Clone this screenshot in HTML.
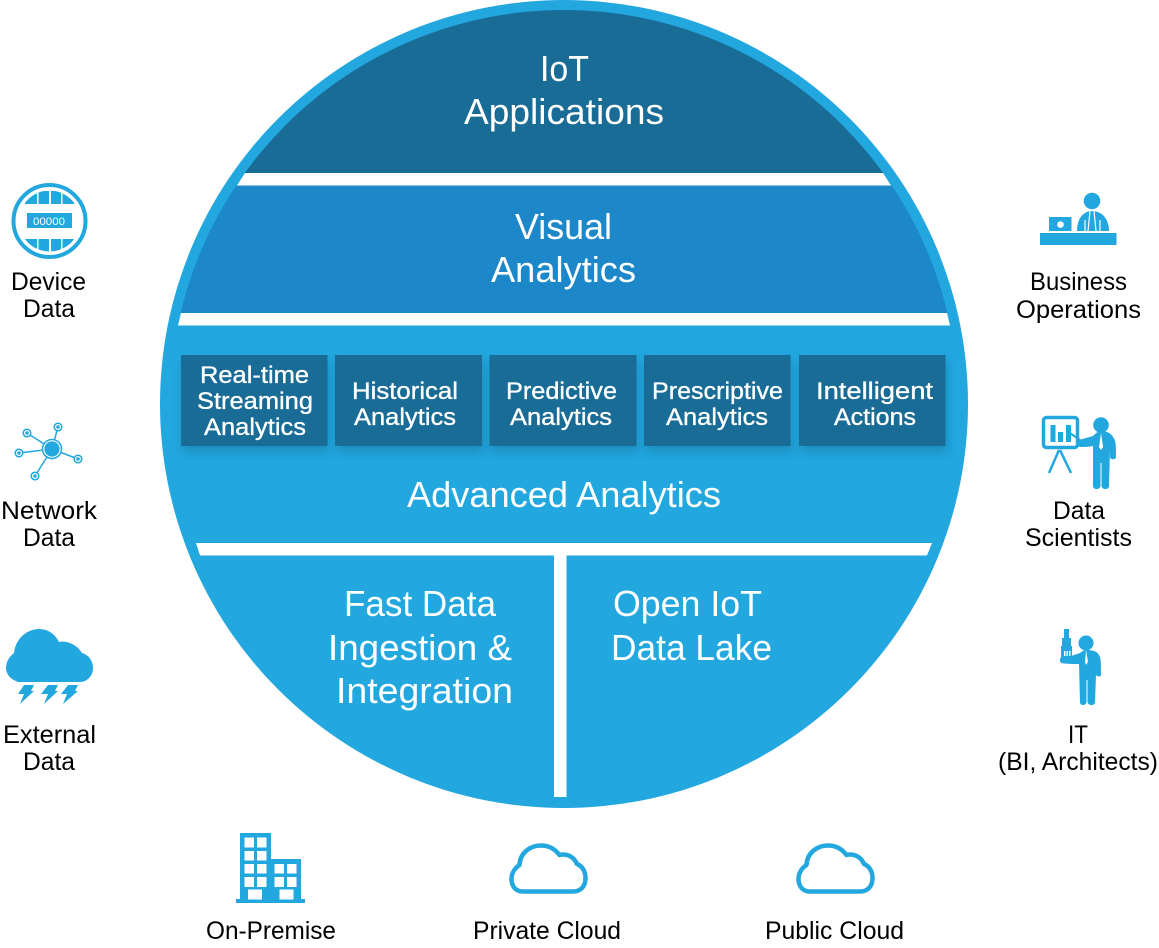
<!DOCTYPE html>
<html><head><meta charset="utf-8"><style>
html,body{margin:0;padding:0;background:#fff;width:1159px;height:948px;overflow:hidden}
svg{display:block}
text{font-family:"Liberation Sans",sans-serif;text-anchor:start}
.w{fill:#fff;font-size:36px}
.b{fill:#fff;font-size:24px;font-weight:400;stroke:#fff;stroke-width:.35px}
.k{fill:#000;font-size:25px}
</style></head><body>
<svg width="1159" height="948" viewBox="0 0 1159 948" xmlns="http://www.w3.org/2000/svg">
<defs>
<clipPath id="inner"><circle cx="564" cy="404" r="394"/></clipPath>
<clipPath id="dev"><circle cx="49.500" cy="221" r="30.500"/></clipPath>
<filter id="sh" x="-20%" y="-20%" width="140%" height="150%"><feGaussianBlur stdDeviation="5"/></filter>
<path id="cl" d="M523 891.500C514 891.500 511.500 884 511.500 879C511.500 873 515 868 519.500 865C520 853 530 845.500 541 845.500C549 845.500 555 849 559.500 855C567 853 574 857 577 864C582 866 585.500 871 585.500 878C585.500 886 581 891.500 573 891.500Z" fill="none" stroke="#22a7df" stroke-width="4.500" stroke-linejoin="round"/>
</defs>

<circle cx="564" cy="404" r="404" fill="#22a7df"/>
<g clip-path="url(#inner)">
<rect x="150" y="0" width="830" height="173" fill="#186c96"/>
<rect x="150" y="185.500" width="830" height="127.500" fill="#1c88c9"/>
</g>
<polygon points="245,173 883,173 891,185.500 237,185.500" fill="#fff"/>
<polygon points="181,313 947,313 950,325.500 178,325.500" fill="#fff"/>
<polygon points="196,543 932,543 927,555.500 200,555.500" fill="#fff"/>
<rect x="554" y="555" width="12.500" height="242" fill="#fff"/>

<g fill="#0f5a80" opacity=".35" filter="url(#sh)">
<rect x="183" y="361" width="146" height="91"/><rect x="337" y="361" width="147" height="91"/><rect x="491" y="361" width="147" height="91"/><rect x="646" y="361" width="146" height="91"/><rect x="801" y="361" width="146" height="91"/>
</g>
<g fill="#186c96">
<rect x="181" y="355" width="146.500" height="91"/><rect x="335" y="355" width="147" height="91"/><rect x="489.500" y="355" width="147" height="91"/><rect x="644" y="355" width="146.500" height="91"/><rect x="799" y="355" width="146.500" height="91"/>
</g>

<text class="w" x="540" y="81" textLength="49" lengthAdjust="spacingAndGlyphs">IoT</text>
<text class="w" x="464" y="124" textLength="200" lengthAdjust="spacingAndGlyphs">Applications</text>
<text class="w" x="515" y="239" textLength="97" lengthAdjust="spacingAndGlyphs">Visual</text>
<text class="w" x="491" y="282" textLength="145" lengthAdjust="spacingAndGlyphs">Analytics</text>
<text class="w" x="407" y="507" textLength="314" lengthAdjust="spacingAndGlyphs">Advanced Analytics</text>
<text class="w" x="344" y="616" textLength="152" lengthAdjust="spacingAndGlyphs">Fast Data</text>
<text class="w" x="328" y="660" textLength="184" lengthAdjust="spacingAndGlyphs">Ingestion &amp;</text>
<text class="w" x="336" y="703" textLength="177" lengthAdjust="spacingAndGlyphs">Integration</text>
<text class="w" x="613" y="616" textLength="149" lengthAdjust="spacingAndGlyphs">Open IoT</text>
<text class="w" x="611" y="660" textLength="161" lengthAdjust="spacingAndGlyphs">Data Lake</text>

<text class="b" x="200" y="383" textLength="109" lengthAdjust="spacingAndGlyphs">Real-time</text>
<text class="b" x="197" y="409" textLength="116" lengthAdjust="spacingAndGlyphs">Streaming</text>
<text class="b" x="204" y="435" textLength="102" lengthAdjust="spacingAndGlyphs">Analytics</text>
<text class="b" x="352" y="399" textLength="106" lengthAdjust="spacingAndGlyphs">Historical</text>
<text class="b" x="354" y="425" textLength="102" lengthAdjust="spacingAndGlyphs">Analytics</text>
<text class="b" x="506" y="399" textLength="111" lengthAdjust="spacingAndGlyphs">Predictive</text>
<text class="b" x="510" y="425" textLength="102" lengthAdjust="spacingAndGlyphs">Analytics</text>
<text class="b" x="652" y="399" textLength="131" lengthAdjust="spacingAndGlyphs">Prescriptive</text>
<text class="b" x="666" y="425" textLength="102" lengthAdjust="spacingAndGlyphs">Analytics</text>
<text class="b" x="816" y="399" textLength="117" lengthAdjust="spacingAndGlyphs">Intelligent</text>
<text class="b" x="834" y="425" textLength="82" lengthAdjust="spacingAndGlyphs">Actions</text>

<text class="k" x="11" y="290" textLength="75" lengthAdjust="spacingAndGlyphs">Device</text>
<text class="k" x="23" y="317" textLength="52" lengthAdjust="spacingAndGlyphs">Data</text>
<text class="k" x="1" y="519" textLength="96" lengthAdjust="spacingAndGlyphs">Network</text>
<text class="k" x="23" y="546" textLength="52" lengthAdjust="spacingAndGlyphs">Data</text>
<text class="k" x="3" y="743" textLength="93" lengthAdjust="spacingAndGlyphs">External</text>
<text class="k" x="23" y="770" textLength="52" lengthAdjust="spacingAndGlyphs">Data</text>
<text class="k" x="1030" y="290" textLength="97" lengthAdjust="spacingAndGlyphs">Business</text>
<text class="k" x="1016" y="318" textLength="125" lengthAdjust="spacingAndGlyphs">Operations</text>
<text class="k" x="1053" y="519" textLength="52" lengthAdjust="spacingAndGlyphs">Data</text>
<text class="k" x="1025" y="546" textLength="107" lengthAdjust="spacingAndGlyphs">Scientists</text>
<text class="k" x="1068" y="743" textLength="20" lengthAdjust="spacingAndGlyphs">IT</text>
<text class="k" x="998" y="770" textLength="160" lengthAdjust="spacingAndGlyphs">(BI, Architects)</text>
<text class="k" x="206" y="939" textLength="130" lengthAdjust="spacingAndGlyphs">On-Premise</text>
<text class="k" x="473" y="939" textLength="148" lengthAdjust="spacingAndGlyphs">Private Cloud</text>
<text class="k" x="765" y="939" textLength="139" lengthAdjust="spacingAndGlyphs">Public Cloud</text>

<!-- Device -->
<circle cx="49.500" cy="221" r="36" fill="none" stroke="#22a7df" stroke-width="4"/>
<g clip-path="url(#dev)" fill="#22a7df">
<rect x="25" y="191" width="12" height="13"/><rect x="38.500" y="191" width="10.500" height="13"/><rect x="51" y="191" width="10" height="13"/><rect x="62.500" y="191" width="12" height="13"/>
<rect x="25" y="239" width="12" height="14"/><rect x="38.500" y="239" width="10.500" height="14"/><rect x="51" y="239" width="10" height="14"/><rect x="62.500" y="239" width="12" height="14"/>
</g>
<rect x="27" y="213" width="45" height="15" fill="#22a7df"/>
<text x="33" y="225" fill="#fff" style="font-size:11px" textLength="32" lengthAdjust="spacingAndGlyphs">00000</text>

<!-- Network -->
<g stroke="#22a7df" stroke-width="1.500" fill="#fff">
<line x1="52" y1="449" x2="27" y2="433"/><line x1="52" y1="449" x2="58" y2="427"/><line x1="52" y1="449" x2="19" y2="453"/><line x1="52" y1="449" x2="78" y2="459"/><line x1="52" y1="449" x2="35" y2="476"/>
<circle cx="52" cy="449" r="9.500"/>
<circle cx="27" cy="433" r="3.800"/><circle cx="58" cy="427" r="3.800"/><circle cx="19" cy="453" r="3.800"/><circle cx="78" cy="459" r="3.800"/><circle cx="35" cy="476" r="3.800"/>
</g>
<g fill="#22a7df"><circle cx="52" cy="449" r="7.600"/><circle cx="27" cy="433" r="1.800"/><circle cx="58" cy="427" r="1.800"/><circle cx="19" cy="453" r="1.800"/><circle cx="78" cy="459" r="1.800"/><circle cx="35" cy="476" r="1.800"/></g>

<!-- External cloud -->
<path d="M18 682C10 679 6 674 6 668C6 661 10 656 14 653C15 640 26 629 39 629C48 629 55 634 59 642C68 640 78 646 82 653C89 655 93 661 93 668C93 676 87 682 80 682Z" fill="#22a7df"/>
<g fill="#22a7df">
<path d="M24 685H34L31 691H34L20 704L24 694H18Z"/>
<path d="M48 685H58L55 691H58L44 704L48 694H41Z"/>
<path d="M68 685H78L75 691H78L63 704L67 694H61Z"/>
</g>

<!-- Business -->
<g fill="#22a7df">
<circle cx="1092" cy="201" r="8.300"/>
<rect x="1040" y="233" width="76.500" height="12"/>
<rect x="1049" y="217" width="22.500" height="14"/>
<path d="M1077 231C1077 219 1083 211 1092 211C1102 211 1109 219 1109 231Z"/>
</g>
<circle cx="1060.500" cy="224.500" r="3.300" fill="#fff"/>
<g stroke="#fff" stroke-width="1.200" fill="none"><path d="M1085 231V220"/><path d="M1100 231V220"/><path d="M1090 211L1088 231"/><path d="M1094 211L1096 231"/></g>

<!-- Scientist -->
<rect x="1043.500" y="417.500" width="34" height="30" rx="3" fill="none" stroke="#22a7df" stroke-width="3.500"/>
<g fill="#22a7df"><rect x="1050.500" y="425" width="5" height="17"/><rect x="1058" y="432" width="5" height="10"/><rect x="1066" y="425" width="5" height="17"/></g>
<path d="M1059 450L1049 473M1060 450L1071 473" stroke="#22a7df" stroke-width="2.500" fill="none"/>
<path d="M1067 431L1080 440" stroke="#22a7df" stroke-width="2" fill="none"/>
<g fill="#22a7df">
<circle cx="1101" cy="425" r="7.800"/>
<path d="M1079 440L1093 436C1095 434 1098 431 1101 431C1106 431 1111 433 1113 437C1116 441 1116 445 1116 457C1116 460 1110 460 1110 457V448L1109 486C1109 490 1102 490 1101.500 486V463H1100.500V486C1100 490 1093 490 1093 486V446C1088 447 1084 447 1080 447C1077 446 1077 441 1079 440Z"/>
</g>
<path d="M1101 433L1099 447L1101 450L1103 447Z" fill="#fff"/>

<!-- IT -->
<g fill="#22a7df">
<circle cx="1086" cy="643" r="7.500"/>
<path d="M1063 656H1071L1080 653C1082 651 1084 650 1086 650C1092 650 1097 651 1099 655C1101 658 1101 662 1101 675C1101 677 1097 677 1096 675L1095 702C1095 706 1088 706 1087.500 702V680H1086.500V702C1086 706 1080 706 1080 702L1079 664C1074 664 1067 664 1061 663C1059 660 1060 657 1063 656Z"/>
<rect x="1062" y="638" width="9" height="8"/><rect x="1061" y="646" width="11" height="11"/><rect x="1064" y="629" width="5" height="9"/>
</g>
<path d="M1086 650L1085 662L1086 665L1088 662Z" fill="#fff"/>
<g fill="#fff"><rect x="1064" y="651" width="1.500" height="5"/><rect x="1066.500" y="651" width="1.500" height="5"/><rect x="1069" y="651" width="1.500" height="5"/></g>

<!-- Building -->
<g fill="#22a7df"><rect x="240" y="833" width="31" height="68"/><rect x="271" y="859" width="30" height="42"/><rect x="236" y="899" width="69" height="4"/></g>
<g fill="#fff">
<rect x="244.500" y="837.500" width="9.500" height="10"/><rect x="257" y="837.500" width="9.500" height="10"/>
<rect x="244.500" y="851" width="9.500" height="9.500"/><rect x="257" y="851" width="9.500" height="9.500"/>
<rect x="244.500" y="864" width="9.500" height="9.500"/><rect x="257" y="864" width="9.500" height="9.500"/>
<rect x="244.500" y="877" width="9.500" height="10"/><rect x="257" y="877" width="9.500" height="10"/>
<rect x="274.500" y="864" width="9.500" height="9.500"/><rect x="287" y="864" width="9.500" height="9.500"/>
<rect x="274.500" y="877" width="9.500" height="10"/><rect x="287" y="877" width="9.500" height="10"/>
<rect x="248" y="889.500" width="14" height="10"/><rect x="279.500" y="889.500" width="14" height="10"/>
</g>

<use href="#cl"/>
<use href="#cl" x="287"/>
</svg>
</body></html>
